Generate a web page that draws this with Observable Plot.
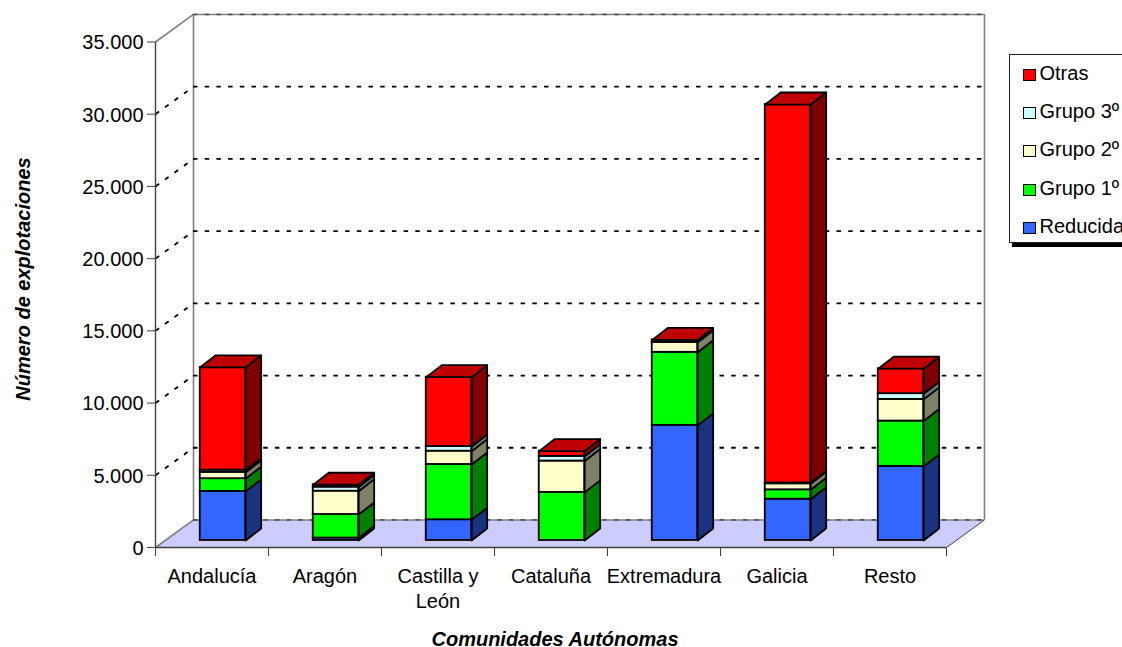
<!DOCTYPE html>
<html><head><meta charset="utf-8">
<script src="https://cdn.jsdelivr.net/npm/d3@7"></script>
<script src="https://cdn.jsdelivr.net/npm/@observablehq/plot@0.6"></script>
<style>
html,body{margin:0;padding:0;background:#fff;overflow:hidden}
#wrap{position:relative;width:1122px;height:647px;overflow:hidden;font-family:"Liberation Sans",Arial,sans-serif}
#legend{position:absolute;left:1009px;top:54px;width:140px;height:189px;background:#fff;border:1px solid #222;box-shadow:3px 4px 0 #000;box-sizing:border-box}
#legend .row{position:absolute;left:13px;height:20px;line-height:20px;font-size:20px;color:#000;white-space:nowrap}
#legend .sw{display:inline-block;width:10.5px;height:10.5px;border:1.5px solid #000;margin-right:4px;vertical-align:-1px}
</style></head><body><div id="wrap"></div>
<script>
const categories = ["Andalucía","Aragón","Castilla y\nLeón","Cataluña","Extremadura","Galicia","Resto"];
const seriesNames = ["Reducida","Grupo 1º","Grupo 2º","Grupo 3º","Otras"];
const reducida = [3400,170,1435,0,7970,2860,5130];
const grupo1   = [880,1630,3830,3330,5060,650,3140];
const grupo2   = [440,1615,920,2170,690,415,1500];
const grupo3   = [150,280,325,325,30,60,395];
const otras    = [7120,165,4800,365,140,26200,1730];
const yTicks = [0,5000,10000,15000,20000,25000,30000,35000];
const frontColors = ["#3366FF","#00FF00","#FFFFCC","#CCFFFF","#FF0000"];
const sideColors  = ["#1A3380","#008000","#808066","#668080","#800000"];
const topColor = "#BF0000";
const floorColor = "#CCCCFF";

// projection parameters of the 3-D look, in data units
const wallDX = 38/113, wallDY = 27.5/72.14*5000;
const barX0 = 0.396, barW = 0.402, barDX = 15.5/113, barDY = 12/72.14*5000, barLift = 7/72.14*5000;
const fmt = v => d3.format(",")(v).replace(/,/g,".");

const values = [reducida,grupo1,grupo2,grupo3,otras];
const fronts = [], sides = [], tops = [];
categories.forEach((c,i) => {
  let acc = barLift;
  const x1 = i+barX0, x2 = x1+barW;
  values.forEach((arr,s) => {
    const v = arr[i];
    if (v <= 0) return;
    const a = acc, b = acc+v;
    fronts.push({x1,x2,y1:a,y2:b,fill:frontColors[s]});
    const id = `${i}-${s}`;
    [[x2,a],[x2+barDX,a+barDY],[x2+barDX,b+barDY],[x2,b],[x2,a]].forEach(([x,y]) => sides.push({id,x,y,fill:sideColors[s]}));
    acc = b;
  });
  [[x1,acc],[x1+barDX,acc+barDY],[x2+barDX,acc+barDY],[x2,acc],[x1,acc]].forEach(([x,y]) => tops.push({id:i,x,y}));
});
const floorPoly = [[0,0],[wallDX,wallDY],[7+wallDX,wallDY],[7,0],[0,0]].map(([x,y])=>({x,y}));
const slots = d3.range(8);
const grey = {stroke:"#808080",strokeWidth:1.6};
const dash = {stroke:"#000",strokeWidth:1.8,strokeDasharray:"4.5 7.2"};

const plot = Plot.plot({
  width:1122, height:647,
  marginLeft:155, marginRight:176, marginTop:42, marginBottom:100,
  style:{fontFamily:'"Liberation Sans",Arial,sans-serif',background:"#fff",overflow:"visible"},
  x:{domain:[0,7],range:[155,946],axis:null},
  y:{domain:[0,35000],range:[547,41.5],axis:null},
  marks:[
    Plot.line(floorPoly,{x:"x",y:"y",fill:floorColor,stroke:"none"}),
    // back wall frame
    Plot.ruleX([wallDX],{y1:wallDY,y2:35000+wallDY,...grey}),
    Plot.ruleX([7+wallDX],{y1:wallDY,y2:35000+wallDY,...grey}),
    Plot.ruleY([35000+wallDY],{x1:wallDX,x2:7+wallDX,...grey}),
    Plot.ruleY([wallDY],{x1:wallDX,x2:7+wallDX,...grey}),
    Plot.link([35000],{x1:()=>0,y1:d=>d,x2:()=>wallDX,y2:d=>d+wallDY,...grey}),
    Plot.link([0],{x1:()=>0,y1:d=>d,x2:()=>wallDX,y2:d=>d+wallDY,...grey}),
    Plot.link([0],{x1:()=>7,y1:d=>d,x2:()=>7+wallDX,y2:d=>d+wallDY,stroke:"#404040",strokeWidth:1}),
    // gridlines
    Plot.ruleY([0,35000],{y:d=>d+wallDY,x1:wallDX,x2:7+wallDX,...dash,strokeOpacity:0.45}),
    Plot.ruleY(yTicks.slice(1,-1),{y:d=>d+wallDY,x1:wallDX,x2:7+wallDX,...dash}),
    Plot.link(yTicks.slice(1,-1),{x1:()=>0,y1:d=>d,x2:()=>wallDX,y2:d=>d+wallDY,...dash}),
    // axes
    Plot.ruleX([0],{y1:0,y2:35000,stroke:"#404040",strokeWidth:1.4}),
    Plot.ruleY([0],{x1:0,x2:7,stroke:"#404040",strokeWidth:1.4}),
    Plot.axisY({ticks:yTicks,tickFormat:()=>"",tickSize:8,anchor:"left",stroke:"#404040",label:null}),
    Plot.axisY({ticks:yTicks,tickFormat:fmt,tickSize:0,tickPadding:12,anchor:"left",stroke:"none",label:null,fontSize:20,color:"#000",dy:1}),
    Plot.axisX({ticks:slots,tickFormat:()=>"",tickSize:9,anchor:"bottom",stroke:"#404040",label:null}),
    Plot.text(categories,{x:(d,i)=>i+0.5,y:0,text:d=>d,dy:18,lineAnchor:"top",fontSize:20,fill:"#000",lineHeight:1.25}),
    // bars
    Plot.line(sides,{x:"x",y:"y",z:"id",fill:"fill",stroke:"#000",strokeWidth:1.8,strokeLinejoin:"round"}),
    Plot.rect(fronts,{x1:"x1",x2:"x2",y1:"y1",y2:"y2",fill:"fill",stroke:"#000",strokeWidth:1.8}),
    Plot.line(tops,{x:"x",y:"y",z:"id",fill:topColor,stroke:"#000",strokeWidth:1.8,strokeLinejoin:"round"}),
    // axis titles
    Plot.text(["Número de explotaciones"],{frameAnchor:"left",textAnchor:"middle",dx:-131.5,dy:-16,rotate:-90,fontSize:20,fontWeight:"bold",fontStyle:"italic",fill:"#000"}),
    Plot.text(["Comunidades Autónomas"],{frameAnchor:"bottom",dx:4,dy:98,fontSize:20,fontWeight:"bold",fontStyle:"italic",fill:"#000"})
  ]
});
const wrap = document.getElementById("wrap");
wrap.appendChild(plot);
const leg = document.createElement("div"); leg.id="legend";
const rowsY = [8,46,84,123,161];
[...seriesNames].reverse().forEach((n,k) => {
  const r = document.createElement("div"); r.className="row"; r.style.top = rowsY[k]+"px";
  const sw = document.createElement("span"); sw.className="sw"; sw.style.background = frontColors[4-k];
  r.appendChild(sw); r.appendChild(document.createTextNode(n)); leg.appendChild(r);
});
wrap.appendChild(leg);
</script></body></html>
